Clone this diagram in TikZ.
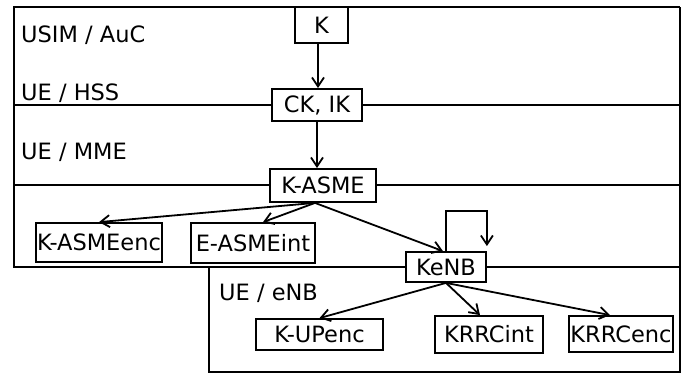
\documentclass[tikz,border=0pt]{standalone}
\usepackage{fontspec}
\setmainfont{DejaVu Sans}
\usetikzlibrary{arrows.meta}
\begin{document}
\begin{tikzpicture}[x=1pt,y=-1pt,
  every node/.style={font=\fontsize{22.5}{26}\selectfont, inner sep=0pt},
  keybox/.style={draw, line width=1.8pt, fill=white, minimum width=#1},
  frameline/.style={line width=1.8pt},
  arr/.style={line width=1.8pt, -{Straight Barb[length=9pt,width=12pt,line width=1.8pt]}}]
\useasboundingbox (0,0) rectangle (688,373);
% frame
\coordinate (tl) at (14,7);
\coordinate (tr) at (680,7);
\coordinate (br) at (680,373);
\coordinate (l1) at (14,105);
\coordinate (r1) at (680,105);
\coordinate (l2) at (14,185);
\coordinate (r2) at (680,185);
\coordinate (l3) at (14,267);
\coordinate (r3) at (680,267);
\coordinate (ll) at (209,267);
\coordinate (lb) at (209,372);
\coordinate (rb) at (680,372);
\draw[frameline] (tr) -- (tl) -- (l3) -- (r3);
\draw[frameline] (tr) -- (br);
\draw[frameline] (l1) -- (r1);
\draw[frameline] (l2) -- (r2);
\draw[frameline] (ll) -- (lb) -- (rb);
% labels
\node[anchor=base west] (usim) at (21,42) {USIM / AuC};
\node[anchor=base west] (hss) at (21,100) {UE / HSS};
\node[anchor=base west] (mme) at (21,159) {UE / MME};
\node[anchor=base west] (enb) at (219,300) {UE / eNB};
% key boxes
\node[keybox=53pt, minimum height=36pt] (k) at (321.5,25) {K};
\node[keybox=90pt, minimum height=32pt] (ckik) at (317,105) {CK, IK};
\node[keybox=106pt, minimum height=33pt] (kasme) at (323,185.5) {K-ASME};
\node[keybox=126pt, minimum height=39pt] (kasmeenc) at (99,242.5) {K-ASMEenc};
\node[keybox=124pt, minimum height=40pt] (easmeint) at (253,243) {E-ASMEint};
\node[keybox=80pt, minimum height=30pt] (kenb) at (446,267) {KeNB};
\node[keybox=127pt, minimum height=31pt] (kupenc) at (319.5,334.5) {K-UPenc};
\node[keybox=108pt, minimum height=37pt] (krrcint) at (489,334.5) {KRRCint};
\node[keybox=104pt, minimum height=36pt] (krrcenc) at (621,334) {KRRCenc};
% connectors
\draw[arr] ([xshift=-3.5pt]k.south) -- ([xshift=1pt]ckik.north);
\draw[arr] (ckik.south) -- (kasme.north -| ckik.south);
\draw[arr] ([xshift=-8pt]kasme.south) -- (kasmeenc.north);
\draw[arr] ([xshift=-8pt]kasme.south) -- ([xshift=10pt]easmeint.north);
\draw[arr] ([xshift=-8pt]kasme.south) -- ([xshift=-3pt]kenb.north);
\draw[arr] (kenb.north) -- ++(0,-40) -| ([yshift=5pt]kenb.north east);
\draw[arr] (kenb.south) -- (kupenc.north);
\draw[arr] (kenb.south) -- ([xshift=-9pt]krrcint.north);
\draw[arr] (kenb.south) -- ([xshift=-11pt]krrcenc.north);
\end{tikzpicture}
\end{document}
